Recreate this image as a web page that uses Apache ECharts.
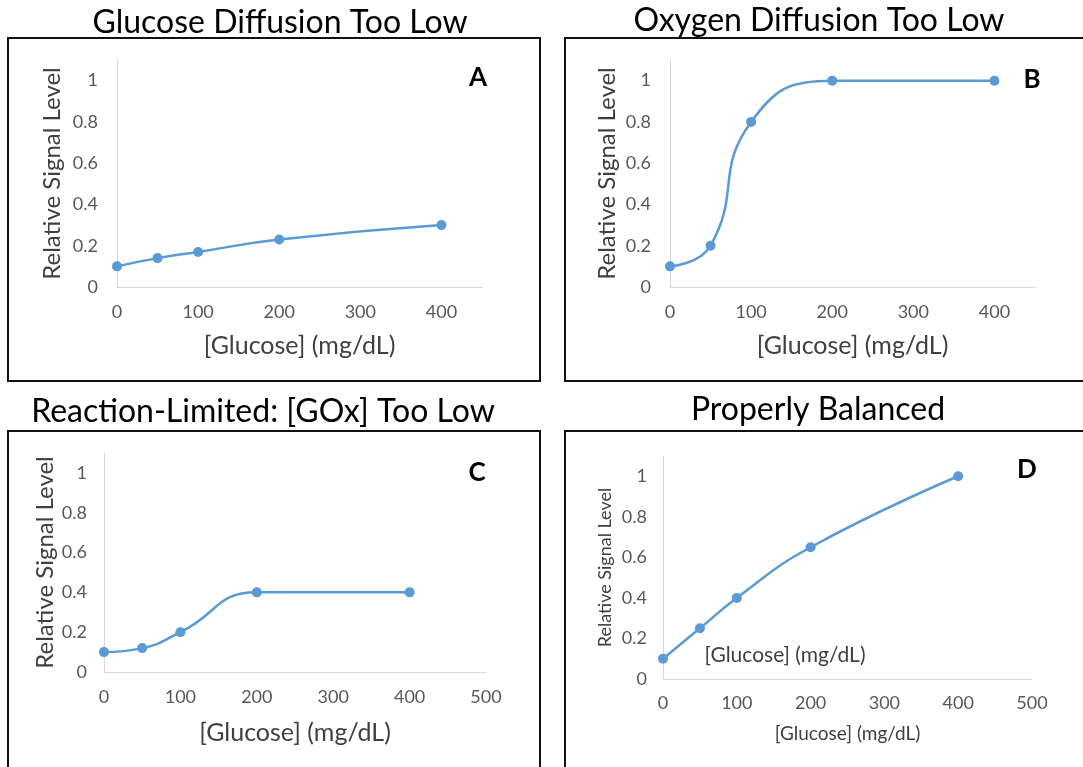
<!DOCTYPE html>
<html>
<head>
<meta charset="utf-8">
<script src="https://cdn.jsdelivr.net/npm/echarts@6/dist/echarts.min.js"></script>
<style>
html,body{margin:0;padding:0;background:#fff;}
#chart{width:1083px;height:767px;}
</style>
</head>
<body>
<div id="chart"></div>
<script>
// ---- Data ----
var glucose = [0, 50, 100, 200, 400];
var signalA = [0.10, 0.14, 0.17, 0.23, 0.30];
var signalB = [0.10, 0.20, 0.80, 1.00, 1.00];
var signalC = [0.10, 0.12, 0.20, 0.40, 0.40];
var signalD = [0.10, 0.25, 0.40, 0.65, 1.00];
var panelTitles = ['Glucose Diffusion Too Low', 'Oxygen Diffusion Too Low', 'Reaction-Limited: [GOx] Too Low', 'Properly Balanced'];
var panelLetters = ['A', 'B', 'C', 'D'];
var xAxisTitle = '[Glucose] (mg/dL)';
var yAxisTitle = 'Relative Signal Level';
var xMax = [450, 450, 500, 500];
var yMax = 1.1;

function pairs(xs, ys) { return xs.map(function (x, i) { return [x, ys[i]]; }); }
var seriesData = [pairs(glucose, signalA), pairs(glucose, signalB), pairs(glucose, signalC), pairs(glucose, signalD)];

var FONT = 'Lato, "Open Sans", sans-serif';
var BLUE = '#5B9BD5';

var grids = [
  {left: 117, top: 60, width: 365, height: 227},
  {left: 670, top: 60, width: 365, height: 227},
  {left: 104, top: 453, width: 382, height: 219},
  {left: 663, top: 456, width: 369, height: 223}
];
var xNameGap = [46, 46, 48, 45];
var yNameGap = [53, 51, 47, 49];
var xNameSize = [25, 25, 25, 19];
var yNameSize = [24, 24, 24, 18];
var xLabelMargin = [16, 16, 16, 15];
var yLabelMargin = [19, 19, 17, 16];

var xAxes = [], yAxes = [], series = [];
for (var i = 0; i < 4; i++) {
  xAxes.push({
    type: 'value', gridIndex: i, min: 0, max: xMax[i], interval: 100,
    name: xAxisTitle, nameLocation: 'middle', nameGap: xNameGap[i],
    nameTextStyle: {fontFamily: FONT, fontSize: xNameSize[i], color: '#404040'},
    splitLine: {show: false},
    axisLine: {show: true, lineStyle: {color: '#d9d9d9', width: 1}},
    axisTick: {show: false},
    axisLabel: {color: '#595959', fontFamily: FONT, fontSize: 18, margin: xLabelMargin[i], showMaxLabel: xMax[i] === 500}
  });
  yAxes.push({
    type: 'value', gridIndex: i, min: 0, max: yMax, interval: 0.2,
    name: yAxisTitle, nameLocation: 'middle', nameGap: yNameGap[i],
    nameTextStyle: {fontFamily: FONT, fontSize: yNameSize[i], color: '#404040'},
    splitLine: {show: false},
    axisLine: {show: true, lineStyle: {color: '#d9d9d9', width: 1}},
    axisTick: {show: false},
    axisLabel: {color: '#595959', fontFamily: FONT, fontSize: 18, margin: yLabelMargin[i], showMaxLabel: false}
  });
  series.push({
    type: 'line', xAxisIndex: i, yAxisIndex: i, data: seriesData[i],
    smooth: 0.5, symbol: 'circle', symbolSize: 10,
    lineStyle: {color: BLUE, width: 2.5},
    itemStyle: {color: BLUE}
  });
}

var boxes = [
  {x: 8, y: 38, w: 532, h: 343},
  {x: 565, y: 38, w: 530, h: 343},
  {x: 8, y: 431, w: 532, h: 345},
  {x: 565, y: 431, w: 530, h: 345}
];
var titlePos = [[280, 23], [819, 21], [263, 412], [818, 410]];
var letterPos = [[478, 78], [1032, 80], [477, 473], [1027, 470]];

var graphics = [];
for (var j = 0; j < 4; j++) {
  graphics.push({
    type: 'rect', shape: {x: boxes[j].x, y: boxes[j].y, width: boxes[j].w, height: boxes[j].h},
    style: {fill: 'none', stroke: '#111', lineWidth: 2}, z: -1
  });
  graphics.push({
    type: 'text', x: titlePos[j][0], y: titlePos[j][1],
    style: {text: panelTitles[j], fontFamily: FONT, fontSize: 32, fill: '#000', textAlign: 'center', textVerticalAlign: 'middle'}
  });
  graphics.push({
    type: 'text', x: letterPos[j][0], y: letterPos[j][1],
    style: {text: panelLetters[j], fontFamily: FONT, fontSize: 26, fontWeight: 'bold', fill: '#000', textAlign: 'center', textVerticalAlign: 'middle'}
  });
}
graphics.push({
  type: 'text', x: 785, y: 655,
  style: {text: xAxisTitle, fontFamily: FONT, fontSize: 21, fill: '#404040', textAlign: 'center', textVerticalAlign: 'middle'}
});

var chart = echarts.init(document.getElementById('chart'), null, {renderer: 'canvas'});
chart.setOption({
  animation: false,
  backgroundColor: '#fff',
  grid: grids,
  xAxis: xAxes,
  yAxis: yAxes,
  series: series,
  graphic: graphics
});
</script>
</body>
</html>
